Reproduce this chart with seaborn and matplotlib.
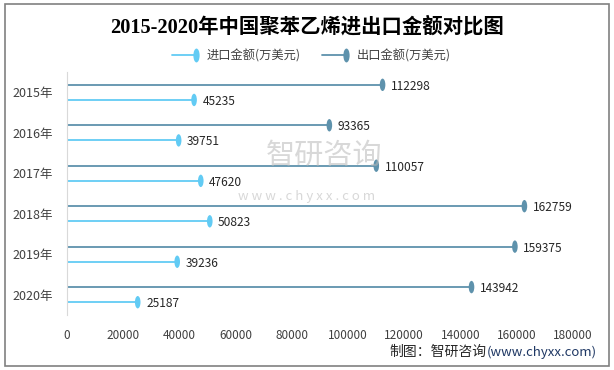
import matplotlib.pyplot as plt
import numpy as np
import pandas as pd
import seaborn as sns
from matplotlib.legend_handler import HandlerBase
from matplotlib.lines import Line2D
from matplotlib.patches import Rectangle
from matplotlib.path import Path
from matplotlib.transforms import Affine2D

YEARS = ["2015年", "2016年", "2017年", "2018年", "2019年", "2020年"]
IMPORT = [45235, 39751, 47620, 50823, 39236, 25187]
EXPORT = [112298, 93365, 110057, 162759, 159375, 143942]
X_TICKS = [0, 20000, 40000, 60000, 80000, 100000, 120000, 140000, 160000, 180000]
IMPORT_NAME = "进口金额(万美元)"
EXPORT_NAME = "出口金额(万美元)"

IMPORT_COLOR = "#62CBF4"
EXPORT_COLOR = "#5E92AC"
TEXT_COLOR = "#404040"
OFFSET = 0.187

sns.set_style("white")
plt.rcParams["font.family"] = ["Noto Sans CJK SC", "DejaVu Sans"]

# vertical oval marker
OVAL = Path.unit_circle().transformed(Affine2D().scale(0.45, 1.0))

df = pd.DataFrame(
    {
        "year": YEARS * 2,
        "value": EXPORT + IMPORT,
        "kind": [EXPORT_NAME] * len(YEARS) + [IMPORT_NAME] * len(YEARS),
    }
)
idx = {y: i for i, y in enumerate(YEARS)}
df["pos"] = df["year"].map(idx) + np.where(df["kind"] == EXPORT_NAME, -OFFSET, OFFSET)
palette = {EXPORT_NAME: EXPORT_COLOR, IMPORT_NAME: IMPORT_COLOR}


class LineEndMarker(HandlerBase):
    # legend key: line with the oval sitting at its right end
    def create_artists(self, legend, orig_handle, xdescent, ydescent,
                       width, height, fontsize, trans):
        y = height / 2 - ydescent
        color = orig_handle.get_color()
        line = Line2D([-xdescent, width - xdescent - 2], [y, y], color=color, lw=1.3)
        mk = Line2D([width - xdescent - 2], [y], marker=OVAL, markersize=10,
                    markeredgewidth=0, color=color, linestyle="none")
        line.set_transform(trans)
        mk.set_transform(trans)
        return [line, mk]


def main():
    fig = plt.figure(figsize=(6.14, 3.70), dpi=100)
    ax = fig.add_axes([0.109, 0.149, 0.824, 0.656])

    for kind, sub in df.groupby("kind"):
        ax.hlines(sub["pos"], 0, sub["value"], color=palette[kind], lw=1.3, zorder=2)
    sns.scatterplot(
        data=df, x="value", y="pos", hue="kind", palette=palette,
        marker=OVAL, s=80, linewidth=0, legend=False, ax=ax, zorder=3,
    )
    for _, r in df.iterrows():
        ax.annotate(
            f"{r['value']}", (r["value"], r["pos"]), xytext=(6, -1),
            textcoords="offset points", va="center", ha="left",
            fontsize=8.6, color="#262626",
        )

    ax.set_xlim(0, 180000)
    ax.set_ylim(len(YEARS) - 0.5, -0.5)
    ax.set_xticks(X_TICKS)
    ax.set_xticklabels([str(t) for t in X_TICKS])
    ax.set_yticks(range(len(YEARS)))
    ax.set_yticklabels(YEARS)
    ax.tick_params(axis="x", length=0, pad=10, labelsize=8.5, labelcolor=TEXT_COLOR)
    ax.tick_params(axis="y", length=0, pad=10, labelsize=9, labelcolor=TEXT_COLOR)
    ax.set_xlabel("")
    ax.set_ylabel("")
    for side in ("top", "right", "bottom"):
        ax.spines[side].set_visible(False)
    ax.spines["left"].set_color("#d9d9d9")

    h_imp = Line2D([0], [0], color=IMPORT_COLOR)
    h_exp = Line2D([0], [0], color=EXPORT_COLOR)
    fig.legend(
        [h_imp, h_exp], [IMPORT_NAME, EXPORT_NAME], loc="center",
        bbox_to_anchor=(0.507, 0.849), ncol=2, frameon=False,
        handler_map={h_imp: LineEndMarker(), h_exp: LineEndMarker()},
        handlelength=2.2, handletextpad=0.65, columnspacing=1.7,
        prop={"size": 8.8}, labelcolor=TEXT_COLOR,
    )

    fig.text(0.5, 0.927, "2015-2020年中国聚苯乙烯进出口金额对比图", ha="center", va="center",
             fontsize=14.7, fontweight="bold", color="black",
             family=["Liberation Serif", "Noto Sans CJK SC"])

    # watermark
    fig.text(0.528, 0.58, "智研咨询", ha="center", va="center", fontsize=21,
             color="#b8b8b8", alpha=0.55)
    fig.text(0.50, 0.468, "w w w . c h y x x . c o m", ha="center", va="center",
             fontsize=9.5, color="#b8b8b8", alpha=0.55)

    src = fig.text(0.635, 0.048, "制图：智研咨询", ha="left", va="center", fontsize=10,
                   color="#262626")
    ax.annotate("(www.chyxx.com)", xy=(1, 0.5), xycoords=src, va="center", ha="left",
                fontsize=9.5, color="#1f3864", annotation_clip=False)

    fig.add_artist(Rectangle((0.008, 0.012), 0.984, 0.978, transform=fig.transFigure,
                             fill=False, edgecolor="#808080", lw=1.2))

    fig.savefig("out.png", dpi=100)


if __name__ == "__main__":
    main()
